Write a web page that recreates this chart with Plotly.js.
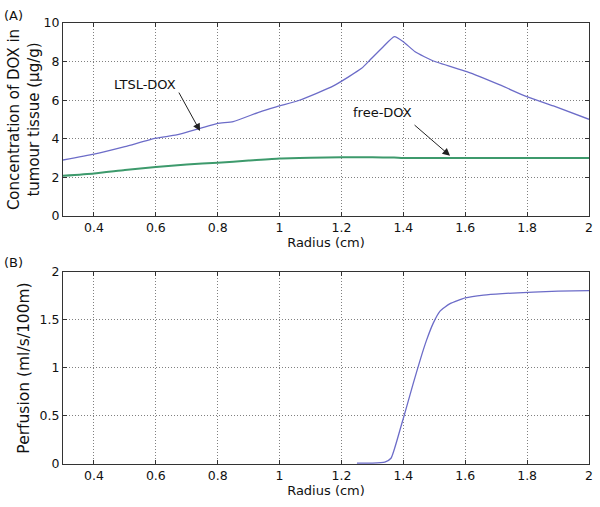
<!DOCTYPE html>
<html>
<head>
<meta charset="utf-8">
<script src="https://cdn.plot.ly/plotly-3.0.1.min.js"></script>
<style>html,body{margin:0;padding:0;background:#fff;}#chart{width:600px;height:507px;}</style>
</head>
<body>
<div id="chart"></div>
<script>
// Panel A: concentration of DOX vs radius
const radiusLTSL = [0.3, 0.4, 0.5, 0.6, 0.667, 0.743, 0.8, 0.85, 0.937, 1.0, 1.066, 1.174, 1.265, 1.292, 1.335, 1.371, 1.4, 1.438, 1.497, 1.605, 1.712, 1.799, 1.885, 2.0];
const concLTSL   = [2.9, 3.2, 3.59, 4.03, 4.2, 4.54, 4.8, 4.89, 5.4, 5.7, 6.01, 6.74, 7.65, 8.08, 8.77, 9.29, 9.03, 8.51, 8.03, 7.48, 6.79, 6.18, 5.7, 5.01];
const radiusFree = [0.3, 0.4, 0.5, 0.6, 0.7, 0.8, 0.9, 1.0, 1.1, 1.2, 1.3, 1.37, 1.4, 1.6, 1.8, 2.0];
const concFree   = [2.08, 2.2, 2.38, 2.54, 2.67, 2.76, 2.87, 2.98, 3.02, 3.04, 3.04, 3.03, 3.01, 3.01, 3.01, 3.01];
// Panel B: perfusion vs radius
const radiusPerf = [1.25, 1.3, 1.34, 1.36, 1.389, 1.411, 1.432, 1.454, 1.475, 1.497, 1.518, 1.551, 1.6, 1.659, 1.72, 1.82, 1.9, 2.0];
const perfusion  = [0.01, 0.01, 0.02, 0.06, 0.354, 0.6, 0.84, 1.08, 1.29, 1.47, 1.59, 1.67, 1.73, 1.76, 1.775, 1.79, 1.8, 1.805];
// Ticks
const xTicks  = [0.4, 0.6, 0.8, 1, 1.2, 1.4, 1.6, 1.8, 2];
const yTicksA = [0, 2, 4, 6, 8, 10];
const yTicksB = [0, 0.5, 1, 1.5, 2];

const FONT = 'DejaVu Sans, Verdana, sans-serif';
const blue = '#6c6cc8';
const green = '#3d9a6c';

const traces = [
  {x: radiusLTSL, y: concLTSL, type: 'scatter', mode: 'lines', line: {color: blue, width: 1.3, shape: 'spline', smoothing: 0.5}, xaxis: 'x', yaxis: 'y', name: 'LTSL-DOX'},
  {x: radiusFree, y: concFree, type: 'scatter', mode: 'lines', line: {color: green, width: 2, shape: 'spline', smoothing: 0.5}, xaxis: 'x', yaxis: 'y', name: 'free-DOX'},
  {x: radiusPerf, y: perfusion, type: 'scatter', mode: 'lines', line: {color: blue, width: 1.3, shape: 'spline', smoothing: 0.5}, xaxis: 'x2', yaxis: 'y2', name: 'Perfusion'}
];

const axisCommon = {
  showline: true, mirror: 'ticks', linecolor: '#333', linewidth: 1,
  ticks: 'inside', ticklen: 4, tickcolor: '#333',
  showgrid: true, gridcolor: '#808080', griddash: '1px,2px', gridwidth: 1,
  zeroline: false, tickfont: {family: FONT, size: 12.5, color: '#111'}
};

const layout = {
  width: 600, height: 507,
  margin: {l: 63, r: 11, t: 23, b: 43},
  paper_bgcolor: '#fff', plot_bgcolor: '#fff',
  showlegend: false,
  font: {family: FONT, color: '#111'},
  xaxis: Object.assign({}, axisCommon, {
    range: [0.3, 2], tickvals: xTicks, anchor: 'y', domain: [0, 1],
    title: {text: 'Radius (cm)', font: {family: FONT, size: 13}, standoff: 2}
  }),
  yaxis: Object.assign({}, axisCommon, {
    range: [0, 10], tickvals: yTicksA, anchor: 'x', domain: [0.5624, 1],
    title: {text: 'Concentration of DOX in<br>tumour tissue (μg/g)', font: {family: FONT, size: 15}, standoff: 0}
  }),
  xaxis2: Object.assign({}, axisCommon, {
    range: [0.3, 2], tickvals: xTicks, anchor: 'y2', domain: [0, 1],
    title: {text: 'Radius (cm)', font: {family: FONT, size: 13}, standoff: 2}
  }),
  yaxis2: Object.assign({}, axisCommon, {
    range: [0, 2], tickvals: yTicksB, anchor: 'x2', domain: [0, 0.4354],
    title: {text: 'Perfusion (ml/s/100m)', font: {family: FONT, size: 15.5}, standoff: 6}
  }),
  annotations: [
    {xref: 'paper', yref: 'paper', x: -0.095, y: 1.018, xanchor: 'center', yanchor: 'middle', text: '(A)', showarrow: false, font: {family: FONT, size: 13}},
    {xref: 'paper', yref: 'paper', x: -0.095, y: 0.458, xanchor: 'center', yanchor: 'middle', text: '(B)', showarrow: false, font: {family: FONT, size: 13}},
    {xref: 'x', yref: 'y', x: 0.565, y: 6.79, text: 'LTSL-DOX', showarrow: false, font: {family: FONT, size: 13}},
    {xref: 'x', yref: 'y', x: 0.743, y: 4.4, ax: -22, ay: -40, text: '', showarrow: true, arrowhead: 2, arrowsize: 1.5, arrowwidth: 1, arrowcolor: '#222'},
    {xref: 'x', yref: 'y', x: 1.334, y: 5.34, text: 'free-DOX', showarrow: false, font: {family: FONT, size: 13}},
    {xref: 'x', yref: 'y', x: 1.551, y: 3.12, ax: -37, ay: -32, text: '', showarrow: true, arrowhead: 2, arrowsize: 1.5, arrowwidth: 1, arrowcolor: '#222'}
  ]
};

Plotly.newPlot('chart', traces, layout, {staticPlot: true, displayModeBar: false});
</script>
</body>
</html>
